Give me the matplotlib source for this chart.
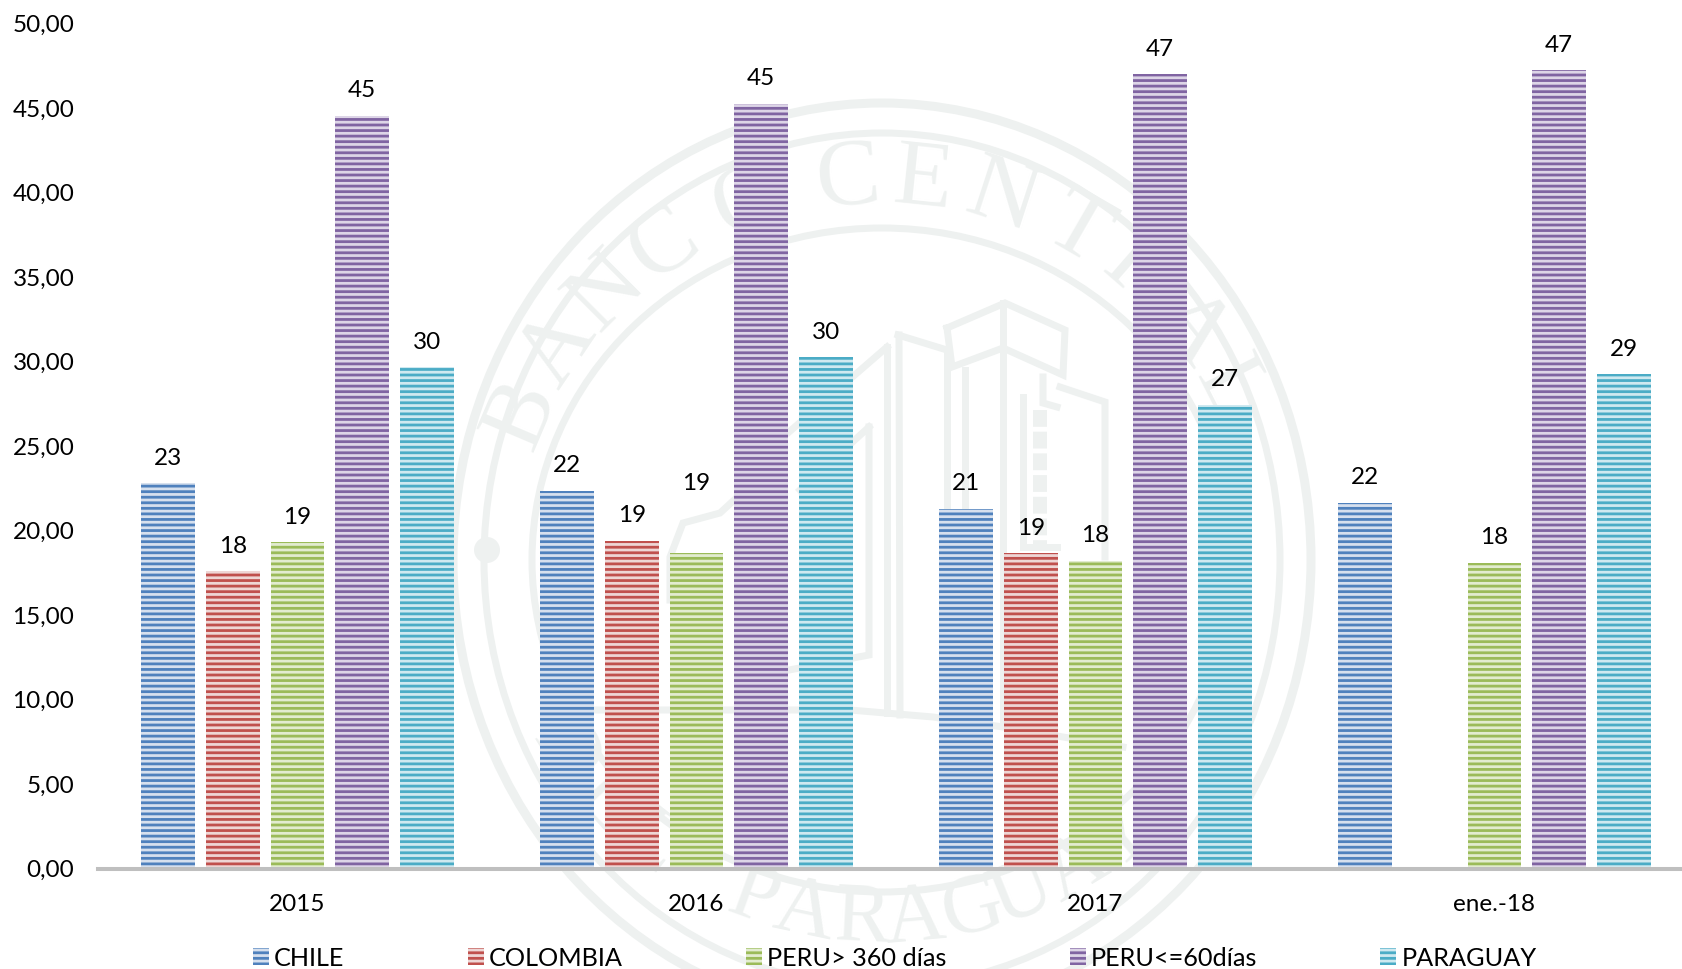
import numpy as np
import matplotlib
matplotlib.use("Agg")
import matplotlib.pyplot as plt
from matplotlib.patches import Ellipse, Circle

plt.rcParams['font.family'] = ['Lato', 'DejaVu Sans']

periods = ["2015", "2016", "2017", "ene.-18"]
series_names = ["CHILE", "COLOMBIA", "PERU> 360 días", "PERU<=60días", "PARAGUAY"]
chile = [22.8, 22.35, 21.3, 21.65]
colombia = [17.6, 19.4, 18.65, np.nan]
peru_360 = [19.3, 18.65, 18.2, 18.1]
peru_60 = [44.55, 45.25, 47.0, 47.25]
paraguay = [29.65, 30.25, 27.45, 29.25]
y_ticks = [0, 5, 10, 15, 20, 25, 30, 35, 40, 45, 50]

stripe_colors = ["#4f81bd", "#c0504d", "#9bbb59", "#8064a2", "#4bacc6"]
pale_colors = ["#d6e0ee", "#eed6d5", "#e2ecd0", "#ddd5e7", "#cfe9f0"]
seal_color = "#eef1f0"

W, H, DPI = 1682, 969, 100
plt.rcParams['hatch.linewidth'] = 2.0


def px(n):
    return n * 72 / DPI


def draw_seal(fig):
    # the faint bank seal behind the bars, in pixel coordinates
    bg = fig.add_axes([0, 0, 1, 1], zorder=0)
    bg.set_xlim(0, W)
    bg.set_ylim(H, 0)
    bg.axis("off")
    for a, b, lw in [(429, 457, 9), (398, 427, 7), (350, 332, 7)]:
        bg.add_patch(Ellipse((882, 560), 2 * a, 2 * b, fill=False, ec=seal_color, lw=px(lw)))
    bg.add_patch(Circle((487, 550), 13, color=seal_color, lw=0))

    top = "BANCOCENTRAL"
    top_ang = [157, 146, 135, 124, 110, 95, 84, 72, 60, 49, 38, 27]
    bottom = "DELPARAGUAY"
    bottom_ang = [212, 222, 232, 250, 258, 267, 275, 284, 292, 301, 310]
    for chars, angles, up in [(top, top_ang, True), (bottom, bottom_ang, False)]:
        for ch, ang in zip(chars, angles):
            t = np.radians(ang)
            if up:
                x = 882 + 390 * np.cos(t)
                y = 565 - 385 * np.sin(t)
                rot = ang - 90
                size = 96
            else:
                x = 882 + 375 * np.cos(t)
                y = 565 - 356 * np.sin(t)
                rot = ang + 90
                size = 84
            bg.text(x, y, ch, rotation=rot, rotation_mode="anchor", ha="center", va="center",
                    color=seal_color, fontsize=px(size), family="Liberation Serif")

    building = [
        [(947, 328), (1005, 303), (1065, 330), (1063, 375), (1003, 348), (952, 367), (947, 328)],
        [(1003, 303), (1003, 720)],
        [(947, 350), (947, 507)],
        [(965, 370), (965, 507)],
        [(898, 335), (947, 350)],
        [(899, 335), (900, 715)],
        [(887, 347), (887, 713)],
        [(887, 347), (789, 432)],
        [(869, 427), (800, 490)],
        [(869, 427), (869, 655), (789, 670)],
        [(1023, 397), (1023, 547), (1057, 547)],
        [(1043, 377), (1043, 403), (1057, 407)],
        [(1060, 387), (1105, 402), (1105, 557)],
        [(593, 710), (850, 710), (933, 717), (1003, 727), (1123, 747)],
        [(670, 600), (670, 557), (683, 523), (720, 513), (745, 490)],
    ]
    for line in building:
        xs, ys = zip(*line)
        bg.plot(xs, ys, color=seal_color, lw=px(7), solid_joinstyle="miter")
    bg.plot([1040, 1040], [410, 545], color=seal_color, lw=px(14), ls=(0, (1.2, 0.35)))


def plot_bars(fig):
    ax = fig.add_axes([98 / W, (H - 868.5) / H, (W - 98) / W, (868.5 - 23.6) / H], zorder=1)
    ax.patch.set_alpha(0)
    x = np.arange(len(periods))
    pitch = 0.162
    width = 0.134
    all_series = [chile, colombia, peru_360, peru_60, paraguay]
    for j, values in enumerate(all_series):
        pos = x + (j - 2) * pitch
        ax.bar(pos, values, width, label=series_names[j], facecolor=pale_colors[j],
               edgecolor=stripe_colors[j], hatch="---", linewidth=0)
        for i, (p, v) in enumerate(zip(pos, values)):
            if np.isnan(v):
                continue
            # the 2016 PERU> 360 label sits higher than the others in the original
            gap = 50 if (i == 1 and j == 2) else 18
            ax.annotate(f"{v:.0f}", (p, v), xytext=(0, gap), textcoords="offset points",
                        ha="center", va="center", fontsize=17.5, color="black")

    ax.set_xlim(-0.5, -0.5 + (W - 98) / 399)
    ax.set_ylim(0, 50)
    ax.set_xticks(x)
    ax.set_xticklabels(periods, fontsize=17.5)
    ax.set_yticks(y_ticks)
    ax.set_yticklabels([f"{t:.2f}".replace(".", ",") for t in y_ticks], fontsize=17.5)
    ax.tick_params(axis="both", length=0, colors="black")
    ax.tick_params(axis="y", pad=17)
    ax.tick_params(axis="x", pad=18.6)
    for side in ["top", "right", "left"]:
        ax.spines[side].set_visible(False)
    ax.spines["bottom"].set_color("#bfbfbf")
    ax.spines["bottom"].set_linewidth(2.9)

    ax.legend(loc="center left", bbox_to_anchor=(253 / W, (H - 958) / H),
              bbox_transform=fig.transFigure, ncol=5, frameon=False, fontsize=18.2,
              handlelength=0.63, handleheight=0.63, handletextpad=0.21, columnspacing=4.87,
              borderpad=0, borderaxespad=0)


if __name__ == "__main__":
    fig = plt.figure(figsize=(W / DPI, H / DPI), dpi=DPI)
    draw_seal(fig)
    plot_bars(fig)
    fig.savefig("out.png", dpi=DPI)
